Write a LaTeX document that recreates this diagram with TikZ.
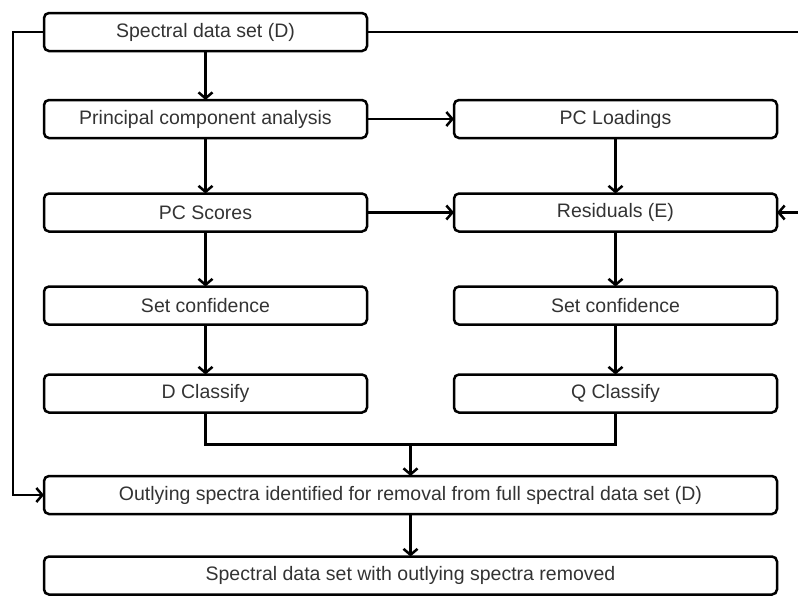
\documentclass[tikz,border=0pt]{standalone}
\usepackage{fontspec}
\setmainfont{Liberation Sans}
\usetikzlibrary{positioning,calc,arrows.meta}
\tikzset{
  stepbox/.style = {draw=black, rounded corners=5pt, line width=2.5pt, outer sep=0pt, text=black!80, inner sep=0pt, minimum height=38pt, font=\fontsize{19.5}{23}\selectfont},
  colbox/.style = {stepbox, minimum width=323pt},
  widebox/.style = {stepbox, minimum width=733pt},
  link/.style = {line width=2.5pt},
  flow/.style = {link, -{Straight Barb[length=6pt,width=14pt]}},
}
\begin{document}
\begin{tikzpicture}
\useasboundingbox (0,0) rectangle (798pt,-595pt);
\clip (0,0) rectangle (798pt,-595pt);

\node [colbox] (D) at (205.5pt,-32pt) {Spectral data set (D)};
\node [colbox, below=49pt of D] (PCA) {Principal component analysis};
\node [colbox, right=87pt of PCA] (PCL) {PC Loadings};
\node [colbox, below=55.5pt of PCA] (PCS) {PC Scores};
\node [colbox, below=55.5pt of PCL] (RES) {Residuals (E)};
\node [colbox, below=55pt of PCS] (SCD) {Set confidence};
\node [colbox, below=55pt of RES] (SCQ) {Set confidence};
\node [colbox, below=50pt of SCD] (DC) {D Classify};
\node [colbox, below=50pt of SCQ] (QC) {Q Classify};
\coordinate (mid) at ($(DC.south)!0.5!(QC.south)$);
\node [widebox, below=63.5pt of mid] (OUT) {Outlying spectra identified for removal from full spectral data set (D)};
\node [widebox, below=42.5pt of OUT] (FIN) {Spectral data set with outlying spectra removed};

\draw [flow] (D) -- (PCA);
\draw [flow] (PCA) -- (PCL);
\draw [flow] (PCA) -- (PCS);
\draw [flow] (PCL) -- (RES);
\draw [flow] (PCS) -- (RES);
\draw [flow] (PCS) -- (SCD);
\draw [flow] (RES) -- (SCQ);
\draw [flow] (SCD) -- (DC);
\draw [flow] (SCQ) -- (QC);

\coordinate (merge) at ($(mid)!0.5!(OUT.north)$);
\draw [link] (DC.south) |- (merge) -| (QC.south);
\draw [flow] (merge) -- (OUT.north);
\draw [flow] (OUT) -- (FIN);

\draw [flow] (D.west) -- ++(-31pt,0) |- (OUT.west);
\draw [flow] (D.east) -- ++(450pt,0) |- (RES.east);
\end{tikzpicture}
\end{document}
